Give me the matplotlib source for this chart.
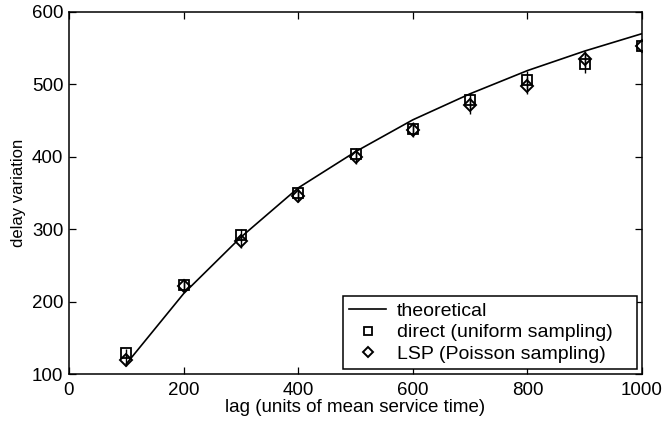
import numpy as np
import matplotlib.pyplot as plt

plt.rcParams['font.family'] = ['Liberation Sans', 'DejaVu Sans']

#--Données -------------------------------------------
lag = [100, 200, 300, 400, 500, 600, 700, 800, 900, 1000]
theo = [114, 211, 289, 357, 407, 451, 487, 519, 546, 570]
direct = [129, 223, 292, 350, 404, 439, 478, 506, 528, 553]
direct_err = [6, 8, 8, 8, 8, 9, 10, 12, 13, 8]
lsp = [119, 222, 283, 346, 399, 437, 471, 498, 535, 553]
lsp_err = [8, 8, 9, 8, 9, 10, 12, 12, 11, 8]

xticks = [0, 200, 400, 600, 800, 1000]
yticks = [100, 200, 300, 400, 500, 600]

#--Figure ---------------------------------------------
fig = plt.figure(figsize=(6.66, 4.26), dpi=100)
ax = fig.add_axes([0.1036, 0.122, 0.8604, 0.850])

ax.plot(lag, theo, color="black", lw=1.2, label="theoretical")
ax.errorbar(lag, direct, yerr=direct_err, fmt='s', ms=7, mfc='none', mec='black',
            mew=1.3, ecolor='black', elinewidth=1.0, capsize=0,
            label="direct (uniform sampling)")
ax.errorbar(lag, lsp, yerr=lsp_err, fmt='D', ms=6.5, mfc='none', mec='black',
            mew=1.4, ecolor='black', elinewidth=1.0, capsize=0,
            label="LSP (Poisson sampling)")

ax.set_xlim(0, 1000)
ax.set_ylim(100, 600)
ax.set_xticks(xticks)
ax.set_yticks(yticks)
ax.tick_params(direction='in', top=True, right=True, labelsize=13.5, length=5, width=0.9)
ax.tick_params(axis='x', pad=6)
ax.tick_params(axis='y', pad=4)
for s in ax.spines.values():
    s.set_linewidth(1.1)

ax.set_xlabel("lag (units of mean service time)", fontsize=13.5, labelpad=0)
ax.set_ylabel("delay variation", fontsize=12, labelpad=4)

handles, labels = ax.get_legend_handles_labels()
handles = [handles[0], handles[1][0], handles[2][0]]
leg = ax.legend(handles, labels, loc='lower left', bbox_to_anchor=(0.478, 0.0138, 0.513, 0.2),
                mode='expand', borderaxespad=0, fontsize=14, fancybox=False, framealpha=1,
                edgecolor='black', handlelength=1.9, handletextpad=0.55,
                labelspacing=0.2, borderpad=0.32, markerscale=0.85)
leg.get_frame().set_linewidth(1.1)

fig.savefig("out.png", dpi=100)
